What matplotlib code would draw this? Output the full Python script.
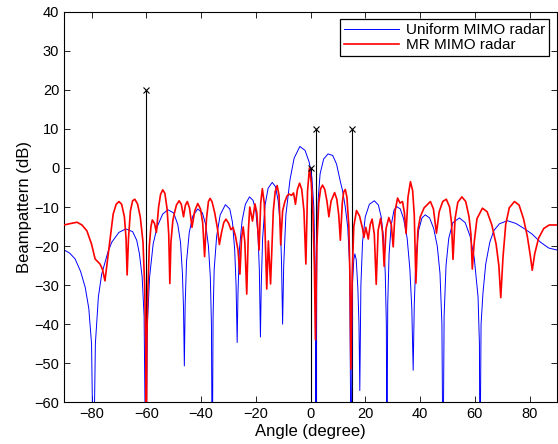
import matplotlib

matplotlib.use("Agg")
import matplotlib.pyplot as plt

plt.rcParams.update({"font.family": ["Liberation Sans", "DejaVu Sans"], "font.size": 10})

# beampattern samples (angle in degree, level in dB)
uniform_angle = [-90, -88, -86, -84, -82.3, -81, -80, -79.3, -78.6, -77.5, -76.3, -74, -72.6, -70, -67.5,
                 -65, -63.5, -62.5, -61.5, -60.8, -60.2, -59.6, -58.8, -57.5, -56, -54, -52.1, -50, -48.5,
                 -47.5, -46.8, -46.4, -46.1, -45.8, -45.3, -44.3, -43, -41.2, -39.5, -38.3, -37.3, -36.6,
                 -36.2, -35.9, -35.6, -35.2, -34.3, -33, -31.1, -29.5, -28.5, -27.7, -27.2, -26.8, -26.5,
                 -26, -25, -23.8, -22.3, -21, -20, -19.2, -18.7, -18.3, -18, -17.5, -16.6, -15.5, -14,
                 -12.8, -11.8, -11, -10.6, -10.2, -9.8, -9, -7.5, -6, -3.9, -2, -0.5, 0.5, 1.2, 1.7, 2.0,
                 2.3, 2.8, 3.5, 4.8, 6.4, 8.1, 9.5, 11, 11.7, 12.7, 13.6, 14.3, 14.8, 15.3, 15.8, 16.2,
                 16.7, 17.3, 17.7, 18.0, 18.4, 19, 20, 21.5, 23.3, 24.8, 25.8, 26.7, 27.3, 27.7, 27.9,
                 28.2, 28.7, 29.5, 30.5, 31.5, 32.8, 34, 35.3, 36.3, 37, 37.5, 37.9, 38.5, 39.5, 40.7,
                 41.9, 43.5, 45, 46.3, 47.3, 48, 48.4, 48.8, 49.5, 50.5, 52, 54.4, 56.5, 58.3, 59.8, 61.2,
                 61.7, 61.9, 62.3, 63, 64, 65.5, 67, 69, 71.9, 75, 78, 80.9, 84, 87, 90]
uniform_db = [-21, -21.8, -23.3, -26.5, -30.6, -36, -45, -80, -45, -33, -27.2, -21.5, -19, -16.5, -15.6,
              -16.3, -18.5, -22, -28, -38, -80, -40, -28, -19.5, -15, -11.8, -10.7, -11.5, -14.5,
              -19, -27, -36, -50.7, -35, -24, -16.5, -12.3, -10.5, -11.5, -14.5, -20, -28,
              -40, -80, -38, -26, -17.5, -12, -9.4, -10.5, -14, -21, -30, -44.7, -32,
              -21, -13.5, -9.3, -7.4, -8.3, -11, -17, -26, -43.3, -30, -18, -9.5, -5.2, -3.7,
              -4.8, -8.5, -15, -24, -40, -25, -12, -3, 2.5, 5.5, 4.5, 1.5, -2.5, -10, -25, -80,
              -20, -8, -1.5, 2.3, 3.6, 3.2, 1, -3.8, -5.8, -10, -15.2, -25, -80, -30, -23.5, -22,
              -23.5, -31, -40, -57, -30, -19, -12.5, -9.3, -8.4, -9.5, -12.5, -18, -27, -40, -80,
              -35, -22, -14.5, -10.8, -9.9, -10.5, -13, -18, -26, -36, -51.8, -35, -23, -16, -12.8,
              -12, -12.8, -15.5, -20, -27, -40, -80, -38, -25, -18, -14, -12.8, -14, -17.5, -23, -33,
              -45, -80, -40, -32, -24.6, -19, -16, -14.3, -13.5, -14.2, -15.5, -16.9, -19, -20.5, -21]

mr_angle = [-90, -87.5, -85.3, -83.5, -81.7, -80, -78.7, -76.9, -76, -75.1, -73.3, -72.1, -71, -70, -69,
            -68, -67.4, -67, -66.5, -65.8, -65, -64.2, -63.2, -62.2, -61.2, -60.6, -60.2, -60, -59.8,
            -59.5, -58.9, -58.3, -57.8, -57.0, -56.3, -55.5, -54.8, -54, -53.2, -52.4, -51.8, -51.4,
            -51.0, -50.3, -49.7, -49, -48, -47.2, -46.4, -45.7, -45, -44.2, -43.3, -42.3, -41.2, -40.2,
            -39.4, -38.7, -38.0, -37.3, -36.7, -36, -35, -34, -33.3, -32.5, -31.7, -30.9, -29.9, -29.1,
            -28.3, -27.4, -26.5, -25.8, -25.2, -24.6, -24, -23.3, -22.7, -22.2, -21.2, -20.3, -19.6,
            -18.8, -18.2, -17.6, -16.9, -16.0, -15.4, -14.6, -13.6, -12.9, -12.2, -11.5, -10.9, -10.2,
            -9.4, -8.6, -7.9, -6.9, -6.2, -5.5, -4.8, -4.0, -3.2, -2.4, -1.7, -1.1, -0.4, 0.3, 0.9,
            1.4, 1.8, 2.3, 3, 3.7, 4.4, 5.2, 6, 6.7, 7.5, 8.8, 9.6, 10.3, 10.9, 11.6, 12.1, 12.7, 13.3,
            14.0, 14.4, 14.75, 15.2, 15.8, 16.8, 17.9, 19.0, 19.5, 20.2, 21.1, 21.8, 22.5, 23.3, 24,
            24.7, 25.6, 26.3, 26.9, 27.6, 28.6, 29.5, 30.2, 30.9, 31.8, 32.7, 33.6, 34.3, 34.9, 35.6,
            36.5, 37.3, 37.9, 38.5, 39.2, 40.1, 41.5, 43.8, 44.9, 46, 47, 48.3, 49.6, 50.8, 51.5,
            52.05, 52.8, 53.8, 55.3, 56.7, 57.9, 58.6, 59.1, 59.8, 60.8, 62.8, 64.5, 66.2, 67.8, 68.8,
            69.5, 70.3, 71.3, 72.6, 74.5, 76.2, 77.8, 79.2, 80.3, 81, 81.9, 83.3, 85.2, 87.2, 90]
mr_db = [-14.6, -14.2, -13.9, -14.6, -16.1, -19.5, -23.3, -24.6, -26, -28.9, -18.6, -11.8, -9.3, -8.6, -9.3,
         -12.5, -18, -27.4, -18, -11, -8.4, -8.0, -9.2, -12.5, -19, -30, -45, -80, -45,
         -33, -20, -15, -13.3, -14.2, -16.5, -10, -6.8, -5.6, -6.5, -10.5, -17, -29.6,
         -19, -13.5, -11.5, -9.5, -8.4, -9.3, -12.5, -9.5, -8.6, -10.3, -15.2, -11, -9.1, -10.5,
         -14, -22.7, -13, -8.6, -7.8, -8.6, -11.5, -15.5, -19.6, -16.5, -14, -13.1, -14.2, -15.8,
         -15.2, -17.5, -21, -27.2, -18, -15.1, -19, -32.3, -16, -10.0, -13.6, -9.2, -11.5,
         -21, -9, -5.3, -9, -31, -18.7, -29.7, -11, -6, -4.5, -7, -19.7, -11,
         -8.7, -7.2, -6.7, -7.0, -6.4, -9.3, -5.5, -3.9, -5.5, -11, -24.6, -6, 0, -4, -12,
         -25, -44, -20, -9, -5.3, -4.4, -5.5, -8.5, -12.5, -8.5, -6.3, -8, -12, -18.5, -9, -6.2, -5.5, -7.5,
         -15, -28, -51.5, -28, -15, -10.9, -12.3, -15.5, -17.8, -15.2, -18.2, -14.5, -13.1, -17, -29.8,
         -16, -12.9, -16.5, -25.2, -15.5, -12.7, -14.5, -20.2, -11, -7.7, -9.0, -8.6, -11.5, -16.8, -7.5,
         -3.5, -5.8, -12, -29.5, -16, -12.5, -10.2, -8.6, -10.5, -16.7, -11.2, -8.6, -8.0, -10, -14,
         -23.4, -13, -8.8, -7.4, -8.6, -12.5, -17, -25.9, -19, -13, -10.3, -11.2, -14.5, -19.5, -25,
         -33.2, -23, -14.5, -10.2, -8.6, -9.5, -13, -17.5, -22.5, -26.2, -22, -18, -15.5, -14.6, -14.6]

# target directions and their desired levels
target_angle = [-60, 0, 2, 15]
target_db = [20, 0, 10, 10]


def fig_beampattern():
    fig = plt.figure(figsize=(5.58, 4.44), dpi=100)
    ax = fig.add_axes([0.115, 0.094, 0.883, 0.8795])
    ax.vlines(target_angle, -60, target_db, color="k", lw=0.8, zorder=1)
    ax.plot(target_angle, target_db, "kx", ms=5, mew=0.8, zorder=4)
    ax.plot(uniform_angle, uniform_db, color="#0000ff", lw=0.7, label="Uniform MIMO radar", zorder=2)
    ax.plot(mr_angle, mr_db, color="#ff0000", lw=1.2, label="MR MIMO radar", zorder=3)
    ax.set_xlim(-90, 90)
    ax.set_ylim(-60, 40)
    ax.set_xticks(range(-80, 81, 20))
    ax.set_yticks(range(-60, 41, 10))
    ax.tick_params(direction="in", top=True, right=True, length=4, width=0.6, labelsize=10.5)
    for s in ax.spines.values():
        s.set_linewidth(0.8)
    ax.set_xlabel("Angle (degree)", fontsize=12, labelpad=2)
    ax.set_ylabel("Beampattern (dB)", fontsize=12, labelpad=2)
    leg = ax.legend(loc="upper right", fancybox=False, edgecolor="k", framealpha=1, fontsize=11,
                    borderaxespad=0.5, handlelength=3.6, borderpad=0.25, labelspacing=0.05,
                    handletextpad=0.5)
    leg.get_frame().set_linewidth(0.9)
    fig.savefig("out.png", dpi=100)
    plt.close(fig)


if __name__ == "__main__":
    fig_beampattern()
